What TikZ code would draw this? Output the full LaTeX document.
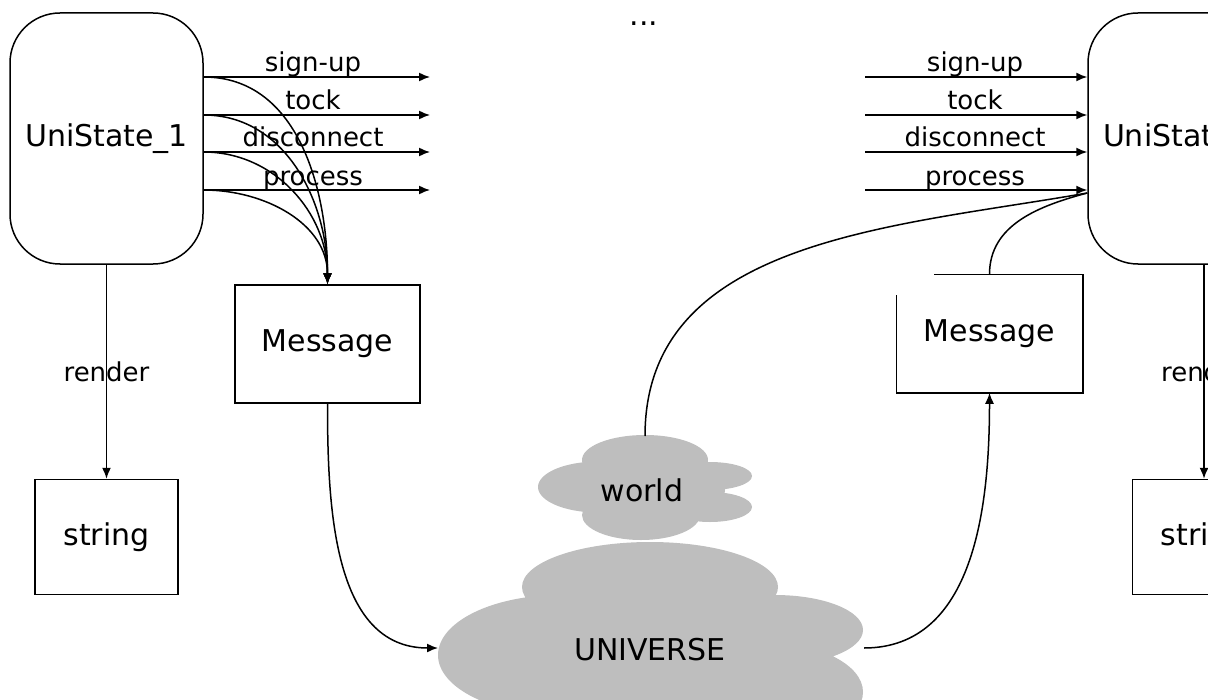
\documentclass[tikz,border=0pt]{standalone}
\usepackage{fontspec}
\setmainfont{DejaVu Sans}
\usetikzlibrary{arrows.meta,calc,positioning}
\definecolor{cloudgray}{RGB}{190,190,190}

\begin{document}
\begin{tikzpicture}[x=0.5pt,y=-0.5pt,line width=0.75pt,>={Latex[length=5.5pt,width=4.5pt]},
  state/.style={draw,rectangle,rounded corners=25pt,minimum width=96.5pt,minimum height=125.5pt,font=\fontsize{15}{18}\selectfont},
  box/.style={draw,rectangle,font=\fontsize{15}{18}\selectfont},
  lbl/.style={font=\fontsize{13}{15}\selectfont,inner sep=0pt,anchor=base},
  cloudtext/.style={font=\fontsize{15}{18}\selectfont}]
  \useasboundingbox (0,0) rectangle (1208,700);
  \clip (0,0) rectangle (1208,700);

  % left side
  \node[state] at (106.5,138.5) (uni1) {UniState\_1};
  \node[box,minimum width=92.5pt,minimum height=59pt] at (327.5,344) (msg1) {Message};
  \node[box,minimum width=71.5pt,minimum height=57.5pt,below=107pt of uni1] (str1) {string};
  \draw[->] (uni1.south) -- (str1.north) node[lbl,anchor=center,midway] {render};
  \foreach \lbl/\yy in {sign-up/77,tock/115,disconnect/152,process/190}{
    \coordinate (lout) at (430,\yy);
    \draw[->] (uni1.east |- lout) -- (lout);
    \node[lbl] at (313,\yy-5) {\lbl};
    \draw[->] (uni1.east |- lout) to[out=0,in=90] (msg1.north);
  }

  % right side
  \node[state,minimum width=116pt,text width=101pt,inner xsep=7.5pt,align=left] at (1204,138.5) (uni2) {UniState\_2};
  \node[box,draw=none,minimum width=92.5pt,minimum height=58.5pt] at (989.5,333.5) (msg2) {Message};
  \draw ($(msg2.north west)+(38,0)$) -- (msg2.north east) -- (msg2.south east) -- (msg2.south west) -- ($(msg2.north west)+(0,21)$);
  \node[box,minimum width=71.5pt,minimum height=57.5pt,below=107pt of uni2] (str2) {string};
  \draw[->] (uni2.south) -- (str2.north) node[lbl,anchor=center,midway] {render};
  \foreach \lbl/\yy in {sign-up/77,tock/115,disconnect/152,process/190}{
    \coordinate (rin) at (865,\yy);
    \draw[->] (rin) -- (uni2.west |- rin);
    \node[lbl] at (975,\yy-5) {\lbl};
  }
  \coordinate (u2in) at ($(uni2.west)+(0,54.5)$);

  % clouds
  \fill[cloudgray] (645,460) ellipse [x radius=63,y radius=25]
    (598,487) ellipse [x radius=60,y radius=25.5]
    (710,476) ellipse [x radius=42,y radius=14]
    (710,507) ellipse [x radius=42,y radius=15]
    (641,515) ellipse [x radius=59,y radius=25]
    (645,490) ellipse [x radius=80,y radius=30];
  \node[cloudtext] (world) at (642,490) {world};
  \coordinate (worldtop) at (645,436);
  \fill[cloudgray] (650,587) ellipse [x radius=128,y radius=45]
    (560,655) ellipse [x radius=122,y radius=60]
    (775,630) ellipse [x radius=88,y radius=35]
    (763,692) ellipse [x radius=100,y radius=50]
    (650,670) ellipse [x radius=150,y radius=50];
  \node[cloudtext] (universe) at (650,650) {UNIVERSE};
  \coordinate (unileft) at (438,648);
  \coordinate (uniright) at (864,648);

  \draw[->] (msg1.south) to[out=-90,in=180] (unileft);
  \draw[->] (uniright) to[out=0,in=-90] (msg2.south);
  \draw (worldtop) to[out=90,in=190] (u2in);
  \draw (msg2.north) to[out=90,in=195] (u2in);

  \node[cloudtext] (dots) at (644,24) {...};
\end{tikzpicture}
\end{document}
